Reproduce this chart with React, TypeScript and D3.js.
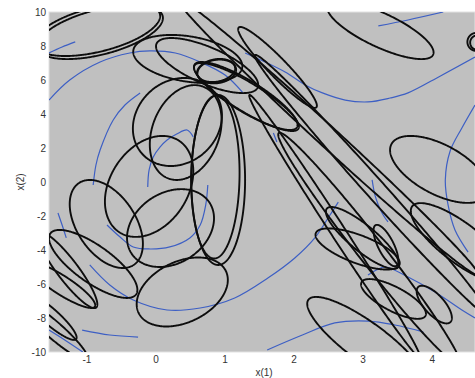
import React from "react";
import * as d3 from "d3";

// ---- axes ----
const xDomain: [number, number] = [-1.55, 4.62];
const yDomain: [number, number] = [-10, 10];
const xTicks = [-1, 0, 1, 2, 3, 4];
const yTicks = [10, 8, 6, 4, 2, 0, -2, -4, -6, -8, -10];
const xLabel = "x(1)";
const yLabel = "x(2)";

// ---- black uncertainty ellipses: [cx, cy, sx, sy, rho] in data units ----
const upperEllipses: number[][] = [
  [-0.81, 8.82, 0.91, 1.59, 0.52],
  [-0.85, 8.97, 0.91, 1.56, 0.51],
  [0.46, 7.24, 0.79, 1.41, -0.3],
  [0.74, 6.85, 0.74, 1.62, -0.7],
  [0.87, 6.56, 0.275, 0.68, 0.2],
  [0.88, 6.5, 0.28, 0.7, 0.15],
  [1.3, 5.06, 0.75, 2.0, -0.85],
  [1.31, 5.0, 0.76, 2.0, -0.87],
  [1.76, 6.74, 0.57, 2.38, -0.945],
  [3.25, 8.94, 0.77, 1.71, -0.77],
  [4.64, 8.24, 0.13, 0.53, 0],
  [4.65, 8.2, 0.1, 0.42, 0],
];
const leftEllipses: number[][] = [
  [0.31, 3.53, 0.645, 2.59, 0.15],
  [0.43, 2.91, 0.52, 2.79, 0.25],
  [0.9, 0.12, 0.39, 5.0, 0.0],
  [0.86, 0.3, 0.35, 4.8, 0.05],
  [-0.1, -0.26, 0.64, 2.97, 0.3],
  [0.21, -2.71, 0.63, 2.29, 0.25],
  [-0.72, -2.47, 0.53, 2.59, -0.45],
  [-0.91, -4.82, 0.64, 2.0, -0.76],
  [-1.28, -5.18, 0.43, 2.24, -0.9],
  [-1.37, -6.06, 0.49, 1.35, -0.88],
  [-1.54, -7.88, 0.39, 1.41, -0.9],
  [-1.48, -8.7, 0.49, 1.76, -0.93],
  [0.38, -6.47, 0.66, 2.03, 0.35],
];
const rightEllipses: number[][] = [
  [4.1, 0.74, 0.71, 1.97, -0.58],
  [4.41, -3.59, 0.72, 2.35, -0.8],
  [2.99, -3.29, 0.53, 1.82, -0.85],
  [2.92, -3.94, 0.61, 1.21, -0.69],
  [3.33, -3.74, 0.18, 1.22, -0.72],
  [3.44, -6.88, 0.47, 1.17, -0.74],
  [4.03, -7.21, 0.255, 1.11, -0.7],
  [3.05, -9.44, 0.86, 2.68, -0.85],
];
const longEllipses: number[][] = [
  [2.49, 2.65, 2.18, 8.13, -0.995],
  [3.14, -0.26, 1.71, 7.74, -0.994],
  [3.09, -3.94, 1.32, 6.84, -0.984],
  [2.59, -2.62, 1.24, 7.74, -0.995],
];

// ---- blue trajectories: [x, y] in data units ----
const blueOuterArc = [[-1.55, 4.82], [-1.25, 6.0], [-0.81, 7.06], [-0.38, 7.59], [-0.09, 7.71], [0.28, 7.59], [0.64, 7.06], [1.0, 6.29], [1.26, 5.24]];
const blueInnerArc = [[-0.91, -0.18], [-0.87, 1.0], [-0.81, 1.88], [-0.62, 3.65], [-0.45, 4.53], [-0.23, 5.24]];
const blueHookArc = [[-0.12, -0.29], [-0.1, 0.71], [-0.04, 1.47], [0.06, 2.06], [0.16, 2.47], [0.3, 2.82], [0.45, 3.06], [0.54, 2.65]];
const blueLowerArc = [[-0.71, -2.53], [-0.52, -3.24], [-0.33, -3.82], [-0.09, -3.94], [0.2, -3.82], [0.49, -3.29], [0.64, -2.53], [0.72, -1.35], [0.75, -0.18]];
const blueLongArc = [[-0.96, -4.88], [-0.67, -6.06], [-0.33, -6.94], [0.16, -7.53], [0.64, -7.41], [1.14, -6.82], [1.62, -5.65], [2.01, -4.47], [2.3, -3.29], [2.52, -1.94], [2.64, -1.18]];
const blueSmallLeft = [[-1.42, -1.82], [-1.36, -2.53], [-1.3, -3.29]];
const blueBottomSmall = [[-1.07, -8.71], [-0.67, -9.0], [-0.26, -9.12]];
const blueCorner = [[-1.55, -8.71], [-1.3, -9.35], [-1.06, -10]];
const blueTopLeft = [[-1.55, 7.59], [-1.36, 7.94], [-1.17, 8.24]];
const blueWave = [[1.29, 7.59], [1.58, 7.06], [1.87, 6.47], [2.16, 5.71], [2.41, 5.24], [2.74, 4.82], [3.07, 4.71], [3.39, 4.94], [3.65, 5.24], [4.12, 6.24], [4.62, 7.35]];
const blueTopRight = [[3.22, 9.18], [3.65, 9.53], [4.16, 10.0]];
const blueRightArc = [[4.62, 4.53], [4.43, 3.18], [4.26, 1.82], [4.19, 0.12], [4.23, -1.35], [4.33, -2.82], [4.52, -4.12]];
const blueMidDrop = [[3.13, 0.12], [3.17, -0.76], [3.22, -1.35], [3.29, -1.94], [3.36, -2.35]];
const blueRightTail = [[3.07, -5.47], [3.19, -5.18], [3.32, -5.0], [3.65, -5.59], [4.04, -6.47], [4.43, -7.53], [4.62, -8.0]];
const blueBottomArc = [[1.61, -9.88], [2.12, -9.0], [2.59, -8.29], [3.07, -8.18], [3.46, -8.41], [3.87, -8.82]];
const blueTiny = [[1.7, 2.88], [1.75, 2.35]];

const blueCurves = [
  blueOuterArc, blueInnerArc, blueHookArc, blueLowerArc, blueLongArc, blueSmallLeft,
  blueBottomSmall, blueCorner, blueTopLeft, blueWave, blueTopRight, blueRightArc,
  blueMidDrop, blueRightTail, blueBottomArc, blueTiny,
];

const W = 475;
const H = 378;
const plot = { left: 49, right: 475, top: 12, bottom: 352 };
const font = "'Liberation Sans', Arial, Helvetica, sans-serif";

export default function App() {
  const x = d3.scaleLinear().domain(xDomain).range([plot.left, plot.right]);
  const y = d3.scaleLinear().domain(yDomain).range([plot.bottom, plot.top]);

  const ellipsePath = (e: number[]) => {
    const [cx, cy, sx, sy, rho] = e;
    const k = Math.sqrt(1 - rho * rho);
    const ts = d3.range(0, 2 * Math.PI, (2 * Math.PI) / 360);
    const pts: [number, number][] = ts.map((t) => [
      cx + sx * Math.cos(t),
      cy + sy * (rho * Math.cos(t) + k * Math.sin(t)),
    ]);
    return d3
      .line<[number, number]>()
      .x((d) => x(d[0]))
      .y((d) => y(d[1]))
      .curve(d3.curveLinearClosed)(pts) as string;
  };

  const blueLine = d3
    .line<number[]>()
    .x((d) => x(d[0]))
    .y((d) => y(d[1]))
    .curve(d3.curveCatmullRom.alpha(0.5));

  const allEllipses = [...upperEllipses, ...leftEllipses, ...rightEllipses, ...longEllipses];

  return (
    <div style={{ position: "absolute", left: 0, top: 0 }}>
      <svg width={W} height={H} style={{ display: "block", background: "#fff" }}>
        <defs>
          <clipPath id="plotClip">
            <rect x={plot.left} y={plot.top} width={plot.right - plot.left} height={plot.bottom - plot.top} />
          </clipPath>
        </defs>
        <rect
          x={plot.left}
          y={plot.top}
          width={plot.right - plot.left}
          height={plot.bottom - plot.top}
          fill="#c0c0c0"
          stroke="#e2e2e2"
          strokeWidth={1}
        />
        <g clipPath="url(#plotClip)">
          {blueCurves.map((c, i) => (
            <path key={"b" + i} d={blueLine(c) as string} fill="none" stroke="#3d5fc4" strokeWidth={1.2} />
          ))}
          {allEllipses.map((e, i) => (
            <path key={"e" + i} d={ellipsePath(e)} fill="none" stroke="#0d0d0d" strokeWidth={1.9} strokeLinejoin="round" />
          ))}
        </g>
        {yTicks.map((t) => (
          <text key={"y" + t} x={46} y={y(t)} dy="0.35em" textAnchor="end" fontFamily={font} fontSize={10} fill="#333">
            {t}
          </text>
        ))}
        {xTicks.map((t) => (
          <text key={"x" + t} x={x(t)} y={363} textAnchor="middle" fontFamily={font} fontSize={10} fill="#333">
            {t}
          </text>
        ))}
        <text x={264} y={376} textAnchor="middle" fontFamily={font} fontSize={10} fill="#333">
          {xLabel}
        </text>
        <text
          transform={`translate(24,${(plot.top + plot.bottom) / 2}) rotate(-90)`}
          textAnchor="middle"
          fontFamily={font}
          fontSize={10}
          fill="#333"
        >
          {yLabel}
        </text>
      </svg>
    </div>
  );
}
